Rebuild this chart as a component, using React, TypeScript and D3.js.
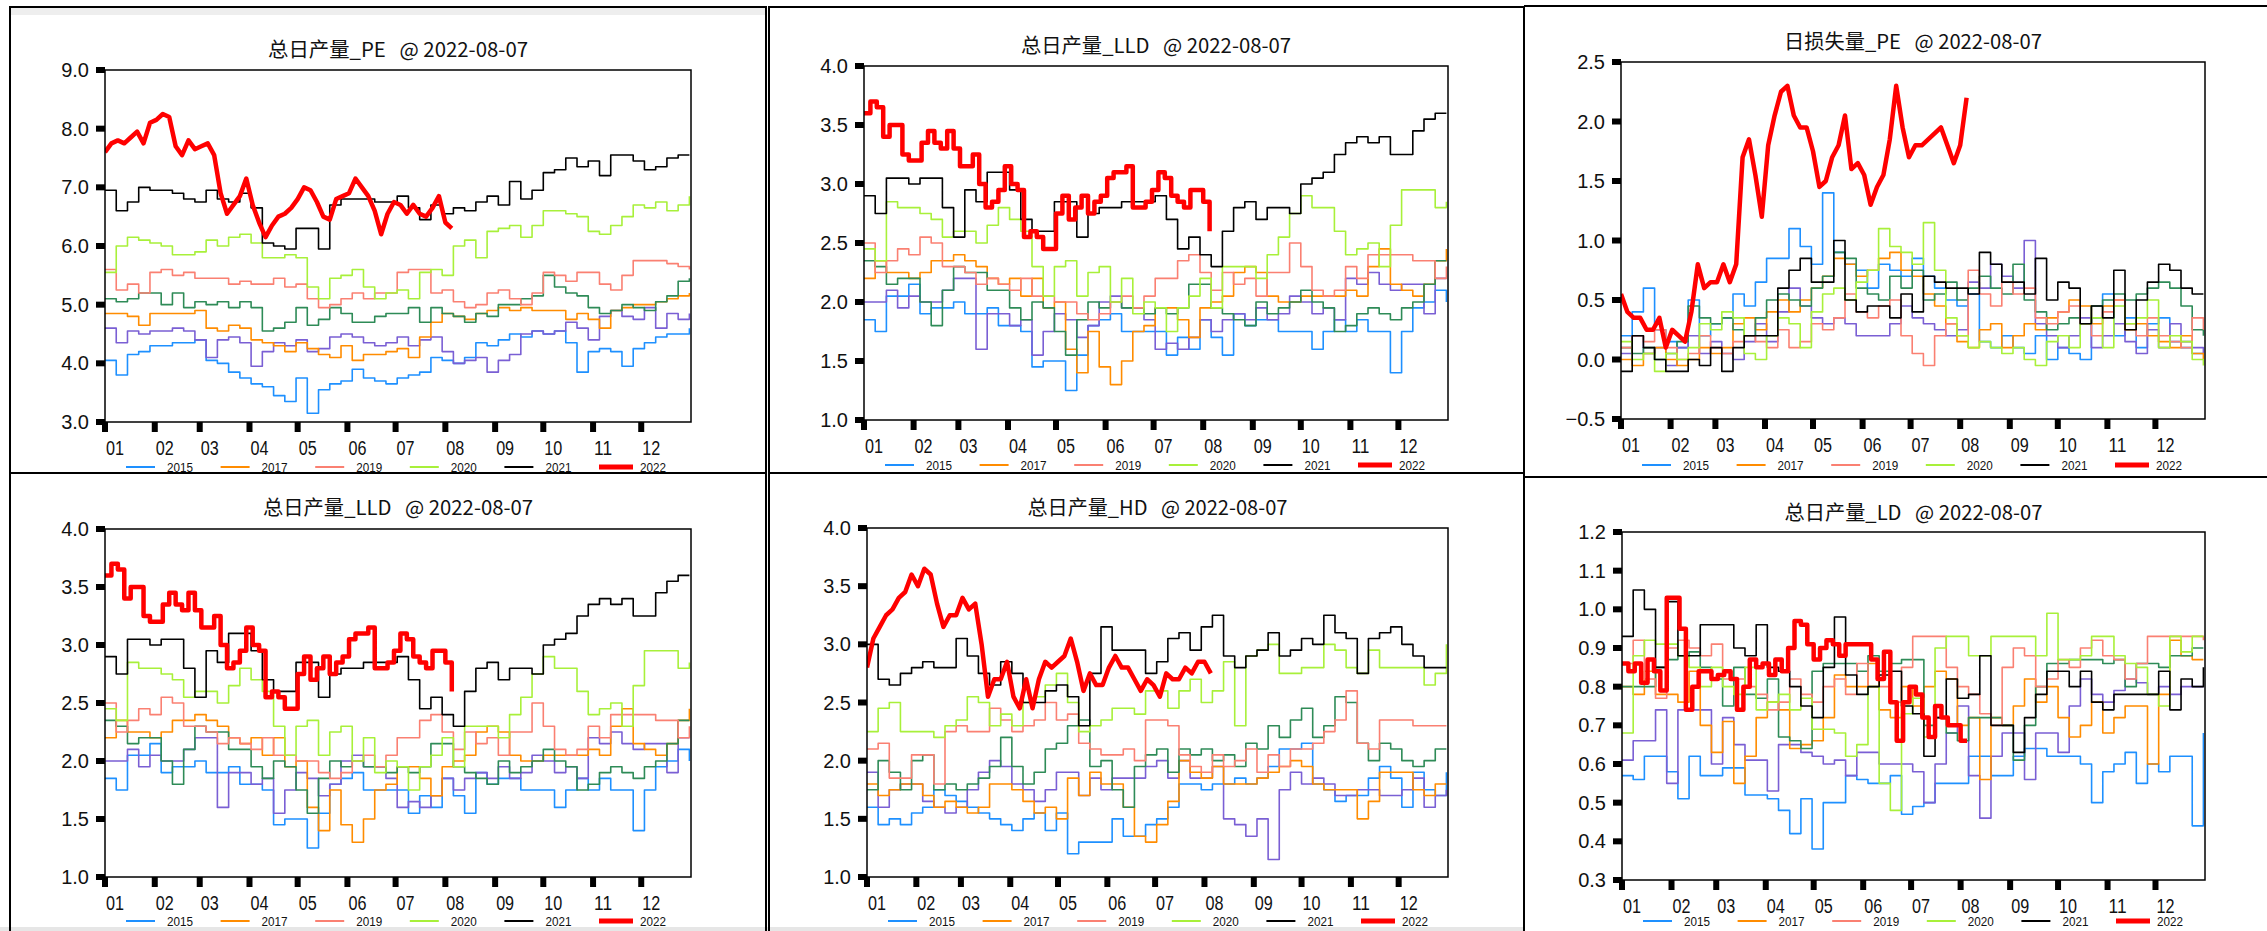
import React from "react";
import * as d3 from "d3";

const W = 2267;
const H = 931;

const years = ["2015", "2016", "2017", "2018", "2019", "2020", "2021", "2022"];
const legendYears = ["2015", "2017", "2019", "2020", "2021", "2022"];
const yearColor: Record<string, string> = {
  "2015": "#1e90ff",
  "2016": "#7a5fd4",
  "2017": "#ff8c00",
  "2018": "#2e8b57",
  "2019": "#fa8072",
  "2020": "#a8f03a",
  "2021": "#000000",
  "2022": "#ff0000"
};
const monthStarts = [0, 31, 59, 90, 120, 151, 181, 212, 243, 273, 304, 334];
const monthLabels = ["01", "02", "03", "04", "05", "06", "07", "08", "09", "10", "11", "12"];
const weekStep = 7; // days between samples, 2015-2021
const step2022 = 4; // days between samples, 2022

// 总日产量_PE
const pe2015 = [4.05,3.8,4.15,4.2,4.3,4.3,4.35,4.35,4.4,4.05,4.0,3.85,3.75,3.65,3.6,3.45,3.35,3.75,3.15,3.55,3.65,3.7,3.9,3.75,3.7,3.65,3.75,3.8,3.85,4.1,4.05,4.0,4.1,4.35,4.3,4.4,4.5,4.45,4.55,4.5,4.55,4.35,3.85,4.2,4.25,4.2,3.95,4.25,4.35,4.45,4.5,4.5,4.6];
const pe2016 = [4.6,4.35,4.55,4.5,4.55,4.55,4.6,4.55,4.4,4.1,4.4,4.45,4.35,3.95,4.2,4.35,4.3,4.4,4.2,4.25,4.45,4.5,4.45,4.35,4.3,4.35,4.45,4.3,4.4,4.45,4.2,4.0,4.05,4.1,3.85,4.05,4.15,4.5,4.55,4.5,4.55,4.7,4.6,4.4,4.8,4.9,4.8,4.75,4.95,4.6,4.85,4.75,4.85];
const pe2017 = [4.85,4.85,4.8,4.65,4.85,4.85,4.85,4.85,4.9,4.6,4.55,4.65,4.6,4.4,4.35,4.3,4.2,4.35,4.25,4.15,4.1,4.3,4.05,4.15,4.15,4.2,4.25,4.1,4.45,4.7,4.85,4.8,4.75,4.85,4.9,4.95,4.9,4.95,4.9,4.9,4.9,4.75,4.85,4.75,4.6,4.9,4.95,5.0,5.0,5.05,5.1,5.15,5.2];
const pe2018 = [5.1,5.05,5.1,5.2,5.2,5.0,5.2,4.95,5.05,5.0,5.05,4.95,5.05,4.95,4.55,4.6,4.7,4.95,4.65,4.75,4.95,4.85,4.7,4.7,4.8,4.85,4.85,4.95,4.7,4.95,4.85,4.8,4.7,4.85,4.8,5.0,5.0,5.1,5.15,5.5,5.3,5.2,5.15,4.95,4.85,4.9,5.0,4.95,4.9,5.05,5.15,5.4,5.45];
const pe2019 = [5.6,5.25,5.35,5.2,5.55,5.6,5.5,5.55,5.45,5.45,5.45,5.35,5.4,5.35,5.35,5.45,5.3,5.35,5.1,4.95,5.0,5.1,5.2,5.1,5.2,5.2,5.55,5.6,5.6,5.2,5.25,5.05,4.95,5.0,5.2,5.25,5.1,5.0,5.2,5.55,5.5,5.4,5.55,5.55,5.35,5.25,5.5,5.75,5.75,5.75,5.7,5.65,5.6];
const pe2020 = [5.55,6.0,6.15,6.1,6.05,6.0,5.85,5.85,5.9,6.1,6.0,6.15,6.2,6.05,5.8,5.8,5.85,5.8,5.3,5.1,5.45,5.5,5.6,5.3,5.1,5.2,5.25,5.1,5.55,5.6,5.5,6.0,6.1,5.8,6.25,6.3,6.35,6.15,6.35,6.6,6.6,6.55,6.5,6.25,6.2,6.35,6.5,6.7,6.65,6.75,6.6,6.7,6.85];
const pe2021 = [6.95,6.6,6.75,7.0,6.95,6.95,6.9,6.8,6.75,6.95,6.8,6.75,6.9,6.65,6.05,6.0,5.95,6.3,6.3,5.95,6.7,6.8,6.8,6.8,6.75,6.75,6.85,6.65,6.45,6.7,6.55,6.65,6.6,6.75,6.85,6.7,7.1,6.8,6.95,7.25,7.3,7.5,7.35,7.45,7.2,7.55,7.55,7.45,7.3,7.35,7.5,7.55,7.55];
const pe2022 = [7.6,7.75,7.8,7.75,7.85,7.95,7.75,8.1,8.15,8.25,8.2,7.7,7.55,7.8,7.65,7.7,7.75,7.55,6.9,6.55,6.7,6.85,7.15,6.7,6.4,6.15,6.35,6.5,6.55,6.65,6.8,7.0,6.95,6.75,6.5,6.45,6.8,6.85,6.9,7.15,7.0,6.85,6.6,6.2,6.55,6.75,6.7,6.55,6.7,6.55,6.5,6.65,6.85,6.4,6.3];

// 总日产量_LLD
const lld2015 = [1.85,1.75,2.05,2.05,2.15,1.9,1.95,1.95,2.0,1.9,1.9,1.95,1.8,1.8,1.75,1.45,1.5,1.5,1.25,1.55,1.8,1.85,1.9,1.75,1.75,1.75,1.75,1.55,1.7,1.6,1.85,1.7,1.55,1.9,1.8,1.85,1.85,1.75,1.75,1.75,1.6,1.75,1.85,1.75,1.85,1.75,1.75,1.4,1.75,1.95,2.0,2.1,2.0];
const lld2016 = [2.0,2.0,2.1,1.95,2.05,2.0,2.0,2.1,2.2,2.2,1.6,1.9,1.9,1.8,1.85,1.55,1.75,1.9,1.85,1.7,1.8,2.0,2.05,1.95,1.95,1.85,1.6,1.65,1.6,1.7,1.85,1.75,1.85,1.9,1.85,1.95,1.85,1.9,2.05,2.0,1.9,1.95,1.85,2.2,2.15,2.25,2.15,2.1,2.15,2.15,1.9,2.2,2.2];
const lld2017 = [2.2,2.35,2.25,2.25,2.2,2.25,2.35,2.35,2.4,2.35,2.3,2.2,2.15,2.2,2.05,2.2,1.95,2.0,1.6,1.4,1.75,1.45,1.3,1.5,1.75,1.8,1.95,1.95,1.85,1.7,1.95,2.0,2.05,2.25,2.3,2.25,2.05,2.0,2.0,2.05,2.05,2.05,2.05,2.1,2.05,2.3,2.45,2.15,2.1,2.05,2.15,2.35,2.45];
const lld2018 = [2.35,2.3,2.15,2.2,2.2,2.0,1.8,2.1,2.3,2.25,2.25,2.1,2.1,1.95,1.85,2.0,1.95,1.75,1.55,1.85,2.0,1.95,2.0,1.95,1.95,1.9,1.95,1.9,1.95,2.15,2.15,1.95,1.9,1.85,1.8,2.0,1.9,1.95,2.0,2.1,2.0,1.95,1.75,1.8,1.9,1.95,1.9,1.85,1.95,2.0,2.15,2.35,2.35];
const lld2019 = [2.5,2.25,2.35,2.45,2.4,2.55,2.5,2.3,2.3,2.25,2.15,2.2,2.15,2.1,2.2,2.05,2.05,2.0,2.0,1.9,1.85,1.9,2.0,2.05,1.95,2.05,2.2,2.2,2.35,2.4,2.25,2.1,2.25,2.15,2.2,2.05,2.25,2.25,2.5,2.3,2.1,2.05,2.1,2.3,2.2,2.4,2.4,2.4,2.4,2.35,2.35,2.2,2.3];
const lld2020 = [2.45,2.35,2.85,2.8,2.8,2.75,2.7,2.55,2.6,2.6,2.5,2.65,2.8,2.7,2.6,2.3,2.05,2.3,2.35,2.05,2.25,2.3,2.0,2.2,1.9,2.0,1.95,1.75,1.95,2.05,2.2,1.95,2.3,2.3,2.3,2.2,2.4,2.55,2.75,2.9,2.8,2.8,2.6,2.4,2.45,2.5,2.3,2.65,2.95,2.95,2.95,2.8,2.85];
const lld2021 = [2.9,2.75,3.05,3.05,3.0,3.05,3.05,2.8,2.55,2.95,2.85,3.1,3.1,2.95,2.7,2.6,2.6,2.85,2.85,2.55,2.75,2.8,2.8,2.85,2.85,2.85,2.9,2.7,2.45,2.55,2.4,2.3,2.6,2.8,2.85,2.7,2.8,2.8,2.75,3.0,3.05,3.1,3.25,3.35,3.4,3.35,3.4,3.25,3.25,3.45,3.55,3.6,3.6];
const lld2022 = [3.6,3.7,3.65,3.4,3.5,3.5,3.25,3.2,3.2,3.35,3.45,3.35,3.3,3.45,3.3,3.15,3.15,3.25,3.0,2.8,2.85,2.95,3.15,3.0,2.95,2.55,2.6,2.55,2.45,2.45,2.75,2.9,2.7,2.8,2.9,2.75,2.85,2.9,3.05,3.1,3.1,3.15,2.8,2.8,2.85,2.95,3.1,3.05,2.9,2.85,2.8,2.95,2.95,2.85,2.6];

// 日损失量_PE
const loss2015 = [0.2,0.4,0.6,0.25,0.15,0.1,0.5,0.2,0.3,0.35,0.55,0.45,0.65,0.85,0.85,1.1,0.95,0.8,1.4,0.9,0.8,0.75,0.6,0.8,0.75,0.7,0.85,0.7,0.6,0.5,0.45,0.55,0.15,0.1,0.2,0.1,0.05,0.2,0.0,0.1,0.05,0.0,0.35,0.55,0.2,0.35,0.1,0.3,0.35,0.15,0.1,0.05,0.05];
const loss2016 = [0.05,0.2,0.05,0.1,-0.05,0.1,0.2,0.05,0.15,0.05,0.0,0.15,0.3,0.15,0.4,0.6,0.45,0.35,0.3,0.35,0.3,0.2,0.2,0.2,0.3,0.45,0.35,0.3,0.25,0.2,0.25,0.65,0.6,0.8,0.7,0.6,1.0,0.3,0.2,0.1,0.2,0.35,0.1,0.2,0.3,0.15,0.05,0.25,0.1,0.3,0.15,0.1,0.05];
const loss2017 = [0.0,-0.05,0.05,0.1,0.0,-0.05,0.0,0.1,0.05,0.1,0.3,0.35,0.25,0.4,0.5,0.4,0.5,0.6,0.7,0.85,0.8,0.7,0.75,0.85,0.9,0.75,0.7,0.55,0.45,0.3,0.15,0.1,0.25,0.3,0.1,0.2,0.3,0.25,0.35,0.4,0.5,0.45,0.3,0.45,0.5,0.25,0.3,0.2,0.15,0.1,0.2,0.05,0.0];
const loss2018 = [0.1,0.05,0.1,0.0,0.05,0.15,0.45,0.35,0.3,0.35,0.25,0.2,0.35,0.5,0.55,0.5,0.45,0.6,0.7,0.9,0.85,0.6,0.55,0.5,0.7,0.6,0.75,0.5,0.55,0.65,0.5,0.6,0.7,0.6,0.55,0.8,0.5,0.4,0.25,0.3,0.35,0.3,0.45,0.5,0.55,0.5,0.55,0.6,0.65,0.6,0.45,0.25,0.2];
const loss2019 = [0.1,0.2,0.15,0.25,0.1,0.0,0.05,0.2,0.1,0.05,0.15,0.2,0.15,0.1,0.25,0.1,0.15,0.3,0.25,0.35,0.55,0.4,0.35,0.45,0.5,0.2,0.05,-0.05,0.2,0.3,0.2,0.75,0.55,0.45,0.65,0.55,0.6,0.35,0.3,0.4,0.45,0.3,0.2,0.4,0.5,0.3,0.2,0.35,0.2,0.15,0.1,0.35,0.25];
const loss2020 = [0.15,0.0,0.05,-0.1,0.05,0.0,0.1,0.3,0.25,0.4,0.35,0.05,0.0,0.2,0.35,0.3,0.1,0.4,0.55,0.6,0.5,0.65,0.75,1.1,0.95,0.9,0.8,1.15,0.75,0.35,0.2,0.1,0.15,0.1,0.05,0.1,0.0,-0.05,0.15,0.2,0.1,0.3,0.35,0.1,0.45,0.3,0.35,0.5,0.1,0.2,0.15,0.0,-0.05];
const loss2021 = [-0.1,0.2,0.1,0.0,-0.1,-0.1,0.0,-0.05,0.1,-0.1,0.1,0.2,0.2,0.2,0.6,0.75,0.85,0.65,0.65,1.0,0.5,0.4,0.45,0.45,0.35,0.55,0.4,0.7,0.65,0.6,0.6,0.55,0.9,0.8,0.65,0.65,0.55,0.85,0.5,0.65,0.6,0.3,0.45,0.35,0.75,0.25,0.5,0.65,0.8,0.75,0.6,0.55,0.55];
const loss2022 = [0.55,0.4,0.35,0.35,0.25,0.25,0.35,0.1,0.25,0.2,0.15,0.4,0.8,0.6,0.65,0.65,0.8,0.65,0.8,1.7,1.85,1.55,1.2,1.8,2.05,2.25,2.3,2.05,1.95,1.95,1.75,1.45,1.5,1.7,1.8,2.05,1.6,1.65,1.55,1.3,1.45,1.55,1.85,2.3,1.95,1.7,1.8,1.8,1.85,1.9,1.95,1.8,1.65,1.8,2.2];

// 总日产量_HD
const hd2015 = [1.6,1.45,1.5,1.45,1.55,1.6,1.75,1.7,1.65,1.6,1.55,1.5,1.45,1.4,1.5,1.55,1.4,1.55,1.2,1.3,1.3,1.3,1.5,1.35,1.35,1.45,1.5,1.6,1.8,1.8,1.75,1.8,1.8,1.85,1.8,1.85,1.95,2.1,2.1,2.15,1.8,1.75,1.65,1.7,1.7,1.85,1.95,1.85,1.6,1.9,1.75,1.7,1.9];
const hd2016 = [1.9,1.6,1.75,1.8,1.8,1.65,1.6,1.55,1.6,1.75,1.9,2.0,1.95,1.8,1.75,1.65,1.75,1.9,1.9,1.7,1.85,1.75,1.85,1.85,1.85,1.95,2.0,1.85,2.0,1.85,1.85,1.95,1.5,1.45,1.35,1.5,1.15,1.75,1.9,1.8,1.85,1.8,1.7,1.7,1.75,1.75,1.7,1.7,1.75,1.85,1.6,1.7,1.75];
const hd2017 = [1.8,1.7,1.75,1.8,1.8,1.7,1.6,1.65,1.6,1.55,1.6,1.8,1.8,1.75,1.65,1.55,1.6,1.5,1.85,1.7,1.9,1.8,1.8,1.6,1.35,1.3,1.45,1.65,2.0,1.9,1.85,1.95,1.8,1.8,1.8,1.85,1.9,1.95,2.0,1.95,1.8,1.75,1.75,1.75,1.5,1.65,1.9,1.9,1.9,1.75,1.7,1.8,1.8];
const hd2018 = [1.75,2.0,1.9,1.75,2.0,2.05,1.75,1.8,1.75,1.8,1.85,1.95,2.2,1.95,1.8,1.9,2.1,2.15,2.3,2.35,1.95,2.0,1.75,1.6,1.95,2.05,2.1,1.9,2.1,2.05,2.1,2.0,2.05,1.95,2.15,2.1,2.3,2.2,2.35,2.45,2.2,2.3,2.55,2.5,2.15,2.0,2.15,2.1,2.0,1.95,2.0,2.1,2.1];
const hd2019 = [2.1,2.15,1.85,1.85,2.05,2.05,1.8,2.25,2.3,2.25,2.25,2.45,2.35,2.25,2.3,2.35,2.5,2.35,2.4,2.15,2.1,2.05,2.05,2.1,2.0,2.35,2.35,2.3,2.05,1.95,1.9,2.05,1.95,2.0,2.1,1.9,2.05,1.95,2.1,2.1,2.15,2.25,2.35,2.6,2.15,2.1,2.35,2.35,2.35,2.3,2.3,2.3,2.3];
const hd2020 = [2.25,2.45,2.5,2.25,2.25,2.25,2.2,2.3,2.35,2.55,2.5,2.3,2.4,2.3,2.5,2.55,2.65,2.75,2.5,2.25,2.3,2.35,2.45,2.45,2.4,2.6,2.6,2.45,2.6,2.7,2.5,2.6,2.85,2.3,2.9,2.95,3.0,2.75,2.75,2.8,2.8,3.0,2.95,2.8,2.75,2.95,2.8,2.8,2.8,2.8,2.65,2.75,3.0];
const hd2021 = [3.0,2.7,2.65,2.75,2.8,2.85,2.8,2.8,3.05,2.9,2.75,2.65,2.85,2.75,2.5,2.5,2.6,2.65,2.55,2.3,2.75,3.15,2.95,2.95,2.95,2.75,2.85,3.05,3.1,2.95,3.15,3.25,2.9,2.8,2.9,2.95,3.1,2.9,2.95,3.05,3.0,3.25,3.1,3.05,2.75,3.05,3.1,3.15,3.0,2.9,2.8,2.8,2.8];
const hd2022 = [2.8,3.05,3.15,3.25,3.3,3.4,3.45,3.6,3.5,3.65,3.6,3.35,3.15,3.25,3.25,3.4,3.3,3.35,3.0,2.55,2.7,2.7,2.85,2.55,2.45,2.7,2.45,2.7,2.85,2.8,2.85,2.9,3.05,2.85,2.6,2.75,2.65,2.65,2.8,2.9,2.8,2.8,2.7,2.6,2.7,2.65,2.55,2.75,2.7,2.7,2.8,2.75,2.85,2.85,2.75];

// 总日产量_LD
const ld2015 = [0.57,0.56,0.62,0.62,0.58,0.51,0.62,0.57,0.57,0.59,0.59,0.52,0.52,0.51,0.48,0.42,0.51,0.38,0.5,0.5,0.57,0.56,0.55,0.55,0.57,0.47,0.49,0.5,0.55,0.55,0.55,0.62,0.62,0.57,0.57,0.62,0.64,0.64,0.62,0.62,0.62,0.6,0.5,0.58,0.6,0.63,0.55,0.6,0.58,0.62,0.62,0.44,0.68];
const ld2016 = [0.61,0.66,0.66,0.74,0.55,0.74,0.74,0.74,0.6,0.72,0.65,0.61,0.61,0.53,0.65,0.65,0.63,0.62,0.6,0.61,0.57,0.63,0.63,0.6,0.6,0.6,0.58,0.5,0.6,0.68,0.75,0.57,0.46,0.62,0.68,0.68,0.56,0.68,0.68,0.63,0.75,0.82,0.78,0.76,0.79,0.82,0.81,0.78,0.8,0.78,0.8,0.8,0.8];
const ld2017 = [0.8,0.78,0.84,0.78,0.78,0.76,0.84,0.7,0.63,0.71,0.55,0.62,0.72,0.76,0.74,0.64,0.65,0.66,0.72,0.83,0.8,0.8,0.86,0.74,0.72,0.8,0.75,0.8,0.84,0.82,0.7,0.72,0.56,0.72,0.7,0.75,0.82,0.76,0.8,0.72,0.67,0.7,0.76,0.68,0.72,0.75,0.75,0.6,0.78,0.92,0.88,0.87,0.87];
const ld2018 = [0.8,0.8,0.8,0.85,0.87,0.88,0.89,0.85,0.82,0.75,0.85,0.78,0.77,0.82,0.67,0.66,0.64,0.84,0.86,0.86,0.86,0.84,0.88,0.84,0.86,0.87,0.87,0.7,0.72,0.68,0.66,0.72,0.72,0.72,0.7,0.61,0.7,0.8,0.86,0.86,0.87,0.87,0.87,0.86,0.87,0.8,0.86,0.86,0.85,0.88,0.88,0.9,0.9];
const ld2019 = [0.86,0.92,0.82,0.77,0.9,0.92,0.9,0.88,0.91,0.82,0.82,0.8,0.78,0.74,0.76,0.82,0.78,0.76,0.8,0.82,0.78,0.86,0.8,0.8,0.76,0.85,0.93,0.93,0.93,0.85,0.8,0.78,0.73,0.7,0.85,0.9,0.88,0.8,0.82,0.87,0.85,0.9,0.92,0.88,0.87,0.82,0.86,0.93,0.93,0.93,0.93,0.93,0.92];
const ld2020 = [0.68,0.88,0.92,0.91,0.91,0.88,0.85,0.8,0.85,0.8,0.78,0.85,0.74,0.76,0.78,0.74,0.77,0.69,0.69,0.68,0.62,0.65,0.8,0.55,0.48,0.73,0.77,0.67,0.9,0.93,0.93,0.88,0.88,0.93,0.93,0.93,0.93,0.88,0.99,0.87,0.87,0.88,0.93,0.93,0.88,0.86,0.85,0.78,0.75,0.93,0.89,0.93,0.93];
const ld2021 = [0.93,1.05,1.0,0.85,1.02,0.88,0.88,0.96,0.96,0.96,0.9,0.88,0.96,0.85,0.84,0.8,0.75,0.72,0.85,0.98,0.83,0.78,0.8,0.83,0.84,0.75,0.73,0.62,0.72,0.82,0.77,0.78,0.88,0.7,0.7,0.63,0.72,0.78,0.84,0.84,0.8,0.84,0.76,0.74,0.78,0.78,0.78,0.78,0.84,0.74,0.82,0.8,0.85];
const ld2022 = [0.86,0.84,0.86,0.81,0.87,0.84,0.79,1.03,1.03,0.95,0.74,0.8,0.84,0.84,0.82,0.83,0.84,0.82,0.74,0.8,0.87,0.85,0.86,0.83,0.87,0.84,0.9,0.97,0.96,0.91,0.87,0.9,0.92,0.91,0.88,0.91,0.91,0.91,0.91,0.87,0.82,0.89,0.76,0.66,0.76,0.8,0.78,0.72,0.67,0.75,0.72,0.7,0.7,0.66,0.66];

type Panel = {
  title: string;
  titleWidth: number;
  titleY: number;
  legendY: number;
  box: [number, number, number, number];
  yDomain: [number, number];
  tickCount: number;
  series: number[][];
  curve2022: d3.CurveFactory;
};

const lldSeries = [lld2015, lld2016, lld2017, lld2018, lld2019, lld2020, lld2021, lld2022];
const gap = "\u00a0\u00a0\u00a0";

const panels: Panel[] = [
  {
    title: `总日产量_PE${gap}@ 2022-08-07`,
    titleWidth: 260,
    titleY: 50,
    legendY: 467,
    box: [105, 70, 691, 422],
    yDomain: [3, 9],
    tickCount: 6,
    series: [pe2015, pe2016, pe2017, pe2018, pe2019, pe2020, pe2021, pe2022],
    curve2022: d3.curveLinear
  },
  {
    title: `总日产量_LLD${gap}@ 2022-08-07`,
    titleWidth: 270,
    titleY: 46,
    legendY: 465,
    box: [864, 66, 1448, 420],
    yDomain: [1, 4],
    tickCount: 6,
    series: lldSeries,
    curve2022: d3.curveStepAfter
  },
  {
    title: `日损失量_PE${gap}@ 2022-08-07`,
    titleWidth: 258,
    titleY: 42,
    legendY: 465,
    box: [1621, 62, 2205, 419],
    yDomain: [-0.5, 2.5],
    tickCount: 6,
    series: [loss2015, loss2016, loss2017, loss2018, loss2019, loss2020, loss2021, loss2022],
    curve2022: d3.curveLinear
  },
  {
    title: `总日产量_LLD${gap}@ 2022-08-07`,
    titleWidth: 270,
    titleY: 508,
    legendY: 921,
    box: [105, 529, 691, 877],
    yDomain: [1, 4],
    tickCount: 6,
    series: lldSeries,
    curve2022: d3.curveStepAfter
  },
  {
    title: `总日产量_HD${gap}@ 2022-08-07`,
    titleWidth: 260,
    titleY: 508,
    legendY: 921,
    box: [867, 528, 1448, 877],
    yDomain: [1, 4],
    tickCount: 6,
    series: [hd2015, hd2016, hd2017, hd2018, hd2019, hd2020, hd2021, hd2022],
    curve2022: d3.curveLinear
  },
  {
    title: `总日产量_LD${gap}@ 2022-08-07`,
    titleWidth: 258,
    titleY: 513,
    legendY: 921,
    box: [1622, 532, 2205, 880],
    yDomain: [0.3, 1.2],
    tickCount: 9,
    series: [ld2015, ld2016, ld2017, ld2018, ld2019, ld2020, ld2021, ld2022],
    curve2022: d3.curveStepAfter
  }
];

const numFont = "'Liberation Sans', Arial, sans-serif";
const cjkFont = "'Noto Sans CJK SC', 'Noto Sans', sans-serif";

function SeasonalPanel({ p, id }: { p: Panel; id: number }) {
  const [l, t, r, b] = p.box;
  const x = d3.scaleLinear().domain([0, 365]).range([l, r]);
  const y = d3.scaleLinear().domain(p.yDomain).range([b, t]);
  const fmt = d3.format(".1f");
  const clipId = `clip-${id}`;

  return (
    <g>
      <defs>
        <clipPath id={clipId}>
          <rect x={l} y={t} width={r - l} height={b - t} />
        </clipPath>
      </defs>
      <text
        x={(l + r) / 2}
        y={p.titleY + 7}
        textAnchor="middle"
        fontFamily={cjkFont}
        fontSize={20}
        textLength={p.titleWidth}
        lengthAdjust="spacingAndGlyphs"
        fill="#111"
      >
        {p.title}
      </text>

      <g clipPath={`url(#${clipId})`}>
        {p.series.map((vals, si) => {
          const yr = years[si];
          const is22 = yr === "2022";
          const step = is22 ? step2022 : weekStep;
          const path = d3
            .line<number>()
            .x((_, i) => x(i * step))
            .y(v => y(v))
            .curve(is22 ? p.curve2022 : d3.curveStepAfter)(vals);
          return (
            <path
              key={yr}
              d={path || ""}
              fill="none"
              stroke={yearColor[yr]}
              strokeWidth={is22 ? 4.5 : 1.6}
              strokeLinejoin="round"
            />
          );
        })}
      </g>

      <rect x={l} y={t} width={r - l} height={b - t} fill="none" stroke="#000" strokeWidth={1.5} />

      {y.ticks(p.tickCount).map(v => (
        <g key={v}>
          <rect x={l - 9} y={y(v) - 3} width={9} height={6} fill="#000" />
          <text
            x={l - 16}
            y={y(v) + 7}
            textAnchor="end"
            fontFamily={numFont}
            fontSize={20}
            fill="#111"
          >
            {fmt(v)}
          </text>
        </g>
      ))}

      {monthStarts.map((d, i) => (
        <g key={d}>
          <rect x={x(d) - 3} y={b} width={6} height={10} fill="#000" />
          <text
            x={x(d) + 1}
            y={b + 33}
            fontFamily={numFont}
            fontSize={20}
            textLength={18}
            lengthAdjust="spacingAndGlyphs"
            fill="#111"
          >
            {monthLabels[i]}
          </text>
        </g>
      ))}

      {legendYears.map((yr, i) => {
        const lx = l + 21 + i * 94.6;
        const ly = p.legendY;
        const thick = yr === "2022";
        return (
          <g key={yr}>
            <line
              x1={lx}
              x2={lx + (thick ? 34 : 29)}
              y1={ly}
              y2={ly}
              stroke={yearColor[yr]}
              strokeWidth={thick ? 5 : 2}
            />
            <text
              x={lx + 41}
              y={ly + 4.5}
              fontFamily={numFont}
              fontSize={12}
              textLength={26}
              lengthAdjust="spacingAndGlyphs"
              fill="#111"
            >
              {yr}
            </text>
          </g>
        );
      })}
    </g>
  );
}

export default function App() {
  return (
    <svg
      width={W}
      height={H}
      style={{ position: "absolute", left: 0, top: 0, display: "block", background: "#fff" }}
    >
      <rect x={0} y={0} width={W} height={H} fill="#fff" />
      <rect x={11} y={8} width={754} height={7} fill="#eeeeee" />
      <rect x={0} y={927} width={1524} height={4} fill="#e6e6e6" />

      {panels.map((p, i) => (
        <SeasonalPanel key={i} p={p} id={i} />
      ))}

      <g stroke="#000" strokeWidth={2} fill="none">
        <rect x={10} y={7} width={756} height={466} />
        <rect x={769} y={7} width={755} height={466} />
        <line x1={1524} x2={W} y1={6} y2={6} />
        <line x1={1524} x2={W} y1={477} y2={477} />
        <line x1={10} x2={10} y1={473} y2={H} />
        <line x1={766} x2={766} y1={473} y2={H} />
        <line x1={769} x2={769} y1={473} y2={H} />
        <line x1={1524} x2={1524} y1={473} y2={H} />
      </g>
    </svg>
  );
}
